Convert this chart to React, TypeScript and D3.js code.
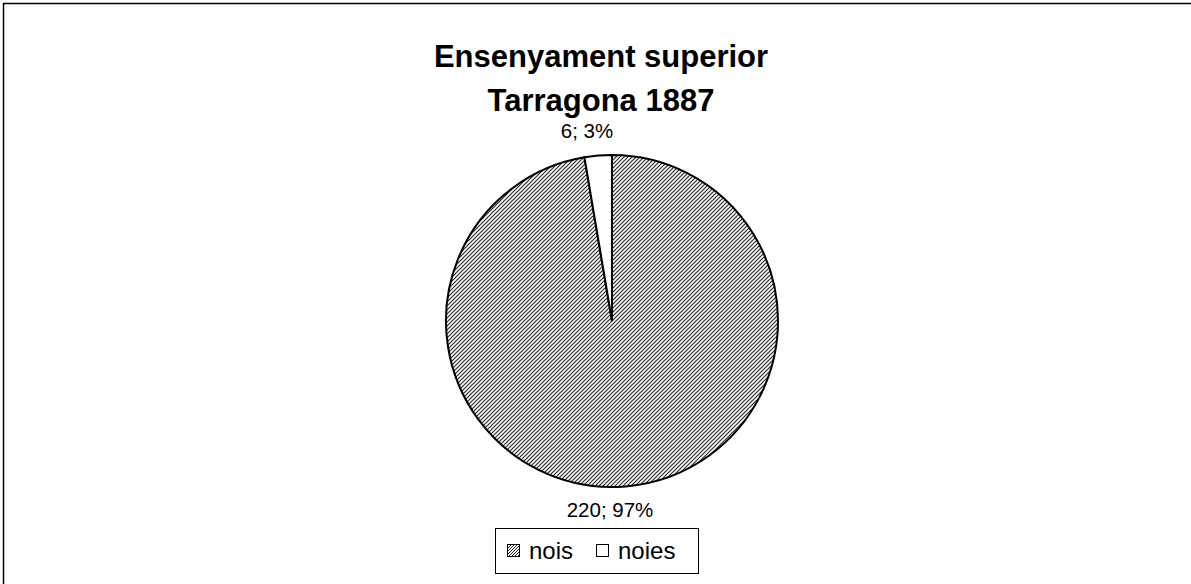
import React from "react";
import * as d3 from "d3";

const categories = ["nois", "noies"];
const values = [220, 6];
const titleLines = ["Ensenyament superior", "Tarragona 1887"];

const W = 1191;
const H = 584;
const cx = 612;
const cy = 321;
const R = 166;

export default function App() {
  const total = d3.sum(values);
  const pie = d3.pie<number>().sort(null).value((d) => d)(values);
  const arc = d3.arc<d3.PieArcDatum<number>>().innerRadius(0).outerRadius(R);
  const fills = ["url(#hatch)", "#ffffff"];
  const fmt = (v: number) => `${v}; ${Math.round((v / total) * 100)}%`;
  const labelPos = [
    { x: 610, y: 517 },
    { x: 587, y: 138 },
  ];
  return (
    <svg
      width={W}
      height={H}
      style={{ position: "absolute", left: 0, top: 0, fontFamily: "Arial, 'Liberation Sans', sans-serif" }}
    >
      <defs>
        <pattern id="hatch" patternUnits="userSpaceOnUse" width={4} height={4}>
          <rect width={4} height={4} fill="#fff" />
          <path d="M-1,1 l2,-2 M0,4 l4,-4 M3,5 l2,-2" stroke="#222" strokeWidth={1.1} />
        </pattern>
        <pattern id="hatchS" patternUnits="userSpaceOnUse" width={3} height={3}>
          <rect width={3} height={3} fill="#fff" />
          <path d="M-1,1 l2,-2 M0,3 l3,-3 M2,4 l2,-2" stroke="#222" strokeWidth={1} />
        </pattern>
      </defs>
      <rect x={0} y={0} width={W} height={H} fill="#fff" />
      <path d={`M3.5,${H + 10} V3.5 H${W + 10}`} fill="none" stroke="#000" strokeWidth={1.5} />
      {titleLines.map((t, i) => (
        <text key={i} x={601} y={67 + i * 44} textAnchor="middle" fontSize={31} fontWeight="bold" fill="#000">
          {t}
        </text>
      ))}
      <g transform={`translate(${cx},${cy})`}>
        {pie.map((p, i) => (
          <path key={i} d={arc(p) || ""} fill={fills[i]} stroke="#000" strokeWidth={2} />
        ))}
      </g>
      {pie.map((p, i) => (
        <text key={i} x={labelPos[i].x} y={labelPos[i].y} textAnchor="middle" fontSize={20.5} fill="#000">
          {fmt(values[i])}
        </text>
      ))}
      <g>
        <rect x={495.5} y={528.5} width={203} height={45} fill="#fff" stroke="#000" strokeWidth={1} />
        <rect x={507.5} y={544.5} width={12} height={12} fill="url(#hatchS)" stroke="#000" strokeWidth={1} />
        <text x={529} y={559} fontSize={24} fill="#000">{categories[0]}</text>
        <rect x={596.5} y={544.5} width={12} height={12} fill="#fff" stroke="#000" strokeWidth={1} />
        <text x={618} y={559} fontSize={24} fill="#000">{categories[1]}</text>
      </g>
    </svg>
  );
}
